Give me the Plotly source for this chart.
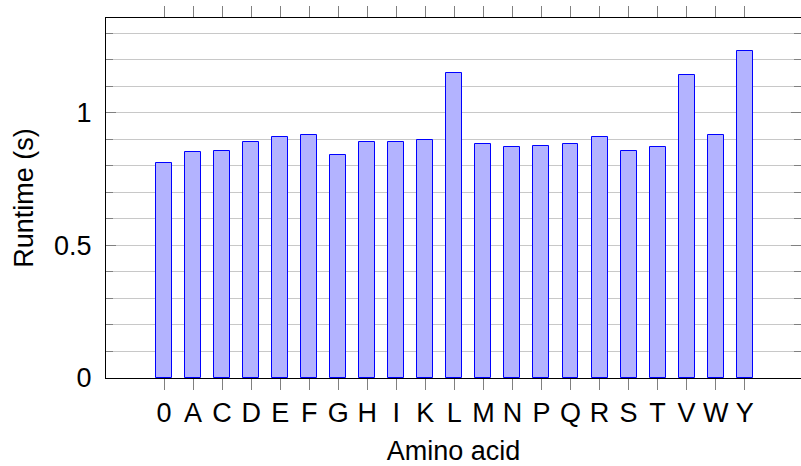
import plotly.graph_objects as go

categories = ["0", "A", "C", "D", "E", "F", "G", "H", "I", "K", "L",
              "M", "N", "P", "Q", "R", "S", "T", "V", "W", "Y"]
runtime = [0.811, 0.851, 0.856, 0.891, 0.908, 0.917, 0.839, 0.888, 0.888, 0.898, 1.148,
           0.883, 0.872, 0.876, 0.883, 0.907, 0.857, 0.872, 1.141, 0.917, 1.233]
y_ticks = [0, 0.5, 1]
y_ticktext = ["0", "0.5", "1"]

xpos = list(range(len(categories)))
XR = [-2, 21.94]
YR = [0, 1.357]
FONT = "Liberation Sans"
FS = 27
GRID = "#c8c8c8"
TICKC = "#808080"

fig = go.Figure()
fig.add_trace(go.Bar(
    x=xpos, y=runtime, width=0.55,
    marker=dict(color="#b3b3ff", line=dict(color="#0000ff", width=1)),
    showlegend=False, hoverinfo="skip",
))
# invisible trace so the right-hand tick axis is drawn
fig.add_trace(go.Scatter(
    x=xpos, y=runtime, yaxis="y2", mode="markers",
    marker=dict(opacity=0), showlegend=False, hoverinfo="skip",
))

fig.update_layout(
    width=801, height=466,
    margin=dict(l=106, r=0, t=18, b=88, autoexpand=False),
    paper_bgcolor="white", plot_bgcolor="white",
    font=dict(family=FONT, size=FS, color="black"),
    bargap=0,
    xaxis=dict(
        range=XR, tickvals=xpos, ticktext=categories, automargin=False,
        showline=True, linecolor="black", linewidth=1, mirror="ticks",
        ticks="outside", ticklen=11, tickcolor=TICKC, tickwidth=1,
        showgrid=False, zeroline=False,
        tickfont=dict(family=FONT, size=FS),
        ticklabelstandoff=0,
        title=dict(text="Amino acid", font=dict(family=FONT, size=FS), standoff=21),
    ),
    yaxis=dict(
        range=YR, tickvals=y_ticks, ticktext=y_ticktext, automargin=False,
        showline=True, linecolor="black", linewidth=1,
        ticks="inside", ticklen=10, tickcolor=TICKC, tickwidth=1,
        showgrid=True, gridcolor=GRID, gridwidth=1, zeroline=False,
        minor=dict(dtick=0.1, tick0=0, ticks="inside", ticklen=7, tickcolor=TICKC,
                   showgrid=True, gridcolor=GRID, gridwidth=1),
        tickfont=dict(family=FONT, size=FS),
        ticklabelstandoff=8,
        title=dict(text="Runtime (s)", font=dict(family=FONT, size=FS), standoff=12),
    ),
    yaxis2=dict(
        range=YR, overlaying="y", side="right", anchor="x",
        tickvals=y_ticks, showticklabels=False, automargin=False,
        showline=False, showgrid=False, zeroline=False,
        ticks="inside", ticklen=10, tickcolor=TICKC, tickwidth=1,
        minor=dict(dtick=0.1, tick0=0, ticks="inside", ticklen=7, tickcolor=TICKC,
                   showgrid=False),
    ),
)

fig.write_html("out.html", config={"displayModeBar": False},
               post_script="document.body.style.margin='0';")
